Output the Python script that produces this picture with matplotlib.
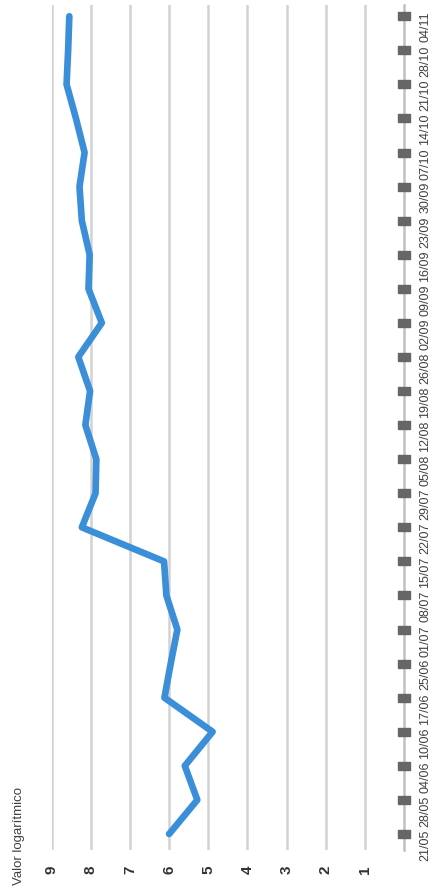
import matplotlib.pyplot as plt
from matplotlib import font_manager

# chart is drawn rotated: dates run bottom->top, value axis runs right->left
fechas = ['21/05', '28/05', '04/06', '10/06', '17/06', '25/06', '01/07', '08/07',
          '15/07', '22/07', '29/07', '05/08', '12/08', '19/08', '26/08', '02/09',
          '09/09', '16/09', '23/09', '30/09', '07/10', '14/10', '21/10', '28/10', '04/11']
valor_log = [6.00, 5.28, 5.60, 4.89, 6.12, 5.96, 5.79, 6.07, 6.13, 8.23, 7.88, 7.86, 8.14,
             8.02, 8.32, 7.72, 8.06, 8.03, 8.23, 8.29, 8.16, 8.38, 8.62, 8.58, 8.55]
base = [0] * len(fechas)
ticks_valor = [1, 2, 3, 4, 5, 6, 7, 8, 9]

names = {f.name for f in font_manager.fontManager.ttflist}
fam = ['Liberation Sans Narrow'] if 'Liberation Sans Narrow' in names else ['Liberation Sans']
plt.rcParams['font.family'] = fam + ['DejaVu Sans']

W, H = 440, 889
fig = plt.figure(figsize=(W / 100, H / 100), dpi=100)
ax = fig.add_axes([51.7 / W, 1 - 850 / H, (404 - 51.7) / W, (850 - 5) / H])

pos = list(range(len(fechas)))

for v in ticks_valor:
    ax.axvline(v, color='#d2d2d2', lw=1.8, zorder=1)

ax.plot(valor_log, pos, color='#3a8fd8', lw=4.8, solid_capstyle='round',
        solid_joinstyle='round', zorder=3)

rect = [(-1, -0.72), (1, -0.72), (1, 0.72), (-1, 0.72), (-1, -0.72)]
ax.plot(base, pos, linestyle='none', marker=rect, markersize=8.0,
        color='#666666', zorder=4, clip_on=False)

ax.set_xlim(9, 0)
ax.set_ylim(-0.47, 24.33)

for s in ['top', 'bottom', 'left']:
    ax.spines[s].set_visible(False)
ax.spines['right'].set_color('#c0c0c0')
ax.spines['right'].set_linewidth(1.8)

ax.yaxis.tick_right()
ax.set_yticks(pos)
ax.set_yticklabels(fechas, rotation=90, fontsize=9, color='#404040')
ax.tick_params(axis='y', length=0, pad=11)

ax.set_xticks(ticks_valor)
ax.set_xticklabels([str(v) for v in ticks_valor], rotation=90, fontsize=11,
                   fontweight='bold', color='#333333')
ax.tick_params(axis='x', length=0, pad=11)

fig.text(19 / W, 1 - 885 / H, 'Valor logarítmico', rotation=90, ha='center',
         va='bottom', fontsize=9.5, color='#404040')

fig.savefig('out.png', dpi=100)
